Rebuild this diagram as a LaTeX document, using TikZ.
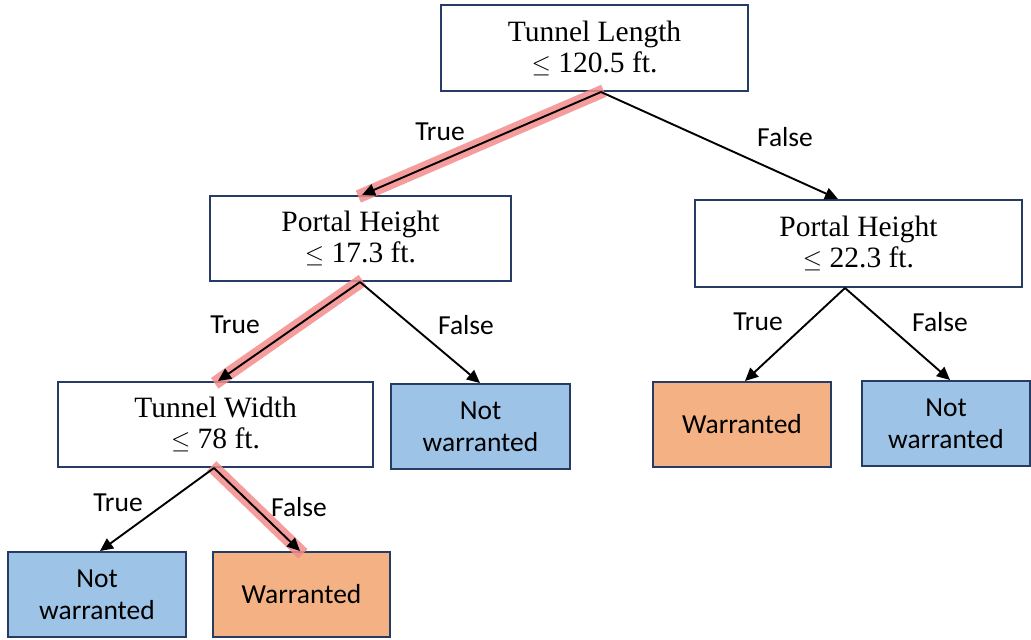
\documentclass[tikz,border=0pt]{standalone}
\usepackage{fontspec}
\setmainfont{Liberation Serif}
\newfontfamily\labelfont{Carlito}
\usetikzlibrary{arrows.meta,calc}
\definecolor{boxline}{RGB}{38,60,100}
\definecolor{nwblue}{RGB}{157,195,230}
\definecolor{worange}{RGB}{244,177,131}
\definecolor{hl}{RGB}{243,140,140}
\tikzset{
  splitbox/.style={draw=boxline,line width=2pt,fill=white,align=center,inner sep=0pt,
    font=\fontsize{29.5}{31}\selectfont},
  leafbox/.style={draw=boxline,line width=2pt,align=center,inner sep=0pt,
    font=\labelfont\fontsize{27.5}{32}\selectfont},
  nwbox/.style={leafbox,fill=nwblue},
  wbox/.style={leafbox,fill=worange},
  edge/.style={line width=1.9pt,-{Triangle[length=13pt,width=12pt]}},
  hlpath/.style={line width=13pt,hl,opacity=0.85,shorten <=-3pt,shorten >=-4pt},
  elabel/.style={font=\labelfont\fontsize{27.5}{30}\selectfont,inner sep=0pt}
}
\begin{document}
\begin{tikzpicture}[x=1pt,y=-1pt]
\useasboundingbox (0,0) rectangle (1031,640);
% nodes
\node[splitbox,minimum width=307pt,minimum height=86pt] (root) at (594.5,48) {Tunnel Length\\$\leq$ 120.5 ft.};
\node[splitbox,minimum width=301pt,minimum height=85pt] (ph1) at (360.5,238.5) {Portal Height\\$\leq$ 17.3 ft.};
\node[splitbox,minimum width=327pt,minimum height=87pt] (ph2) at (858.5,243.5) {Portal Height\\$\leq$ 22.3 ft.};
\node[splitbox,minimum width=315pt,minimum height=85pt] (tw) at (215.5,424.5) {Tunnel Width\\$\leq$ 78 ft.};
\node[nwbox,minimum width=179pt,minimum height=85pt] (nw1) at (480.5,426.5) {Not\\warranted};
\node[wbox,minimum width=178pt,minimum height=85pt] (w2) at (742,424.5) {Warranted};
\node[nwbox,minimum width=168pt,minimum height=85pt] (nw2) at (946,423.5) {Not\\warranted};
\node[nwbox,minimum width=178pt,minimum height=85pt] (nw3) at (97,594.5) {Not\\warranted};
\node[wbox,minimum width=177pt,minimum height=85pt] (w1) at (301.5,594.5) {Warranted};
% connector end points
\coordinate (r1) at ($(root.south)+(6.5,0)$);
\coordinate (p1t) at ($(ph1.north)+(1.5,0)$);
\coordinate (p2t) at ($(ph2.north)+(-20.5,0)$);
\coordinate (p1b) at ($(ph1.south)+(-0.5,0)$);
\coordinate (twt) at ($(tw.north)+(2.5,0)$);
\coordinate (nw1t) at ($(nw1.north)+(-0.5,0)$);
\coordinate (p2b) at ($(ph2.south)+(-13.5,0)$);
\coordinate (w2t) at ($(w2.north)+(3,0)$);
\coordinate (nw2t) at ($(nw2.north)+(4,0)$);
\coordinate (twb) at ($(tw.south)+(-1.5,0)$);
\coordinate (nw3t) at ($(nw3.north)+(3,0)$);
\coordinate (w1t) at ($(w1.north)+(-1.5,0)$);
% highlights
\draw[hlpath] (r1) -- (p1t);
\draw[hlpath] (p1b) -- (twt);
\draw[hlpath] (twb) -- (w1t);
% edges
\draw[edge] (r1) -- (p1t);
\draw[edge] (r1) -- (p2t);
\draw[edge] (p1b) -- (twt);
\draw[edge] (p1b) -- (nw1t);
\draw[edge] (p2b) -- (w2t);
\draw[edge] (p2b) -- (nw2t);
\draw[edge] (twb) -- (nw3t);
\draw[edge] (twb) -- (w1t);
% labels
\node[elabel] (l1) at (440,132) {True};
\node[elabel] (l2) at (785,137) {False};
\node[elabel] (l3) at (235,325) {True};
\node[elabel] (l4) at (466,325) {False};
\node[elabel] (l5) at (758,322) {True};
\node[elabel] (l6) at (940,322) {False};
\node[elabel] (l7) at (118,503) {True};
\node[elabel] (l8) at (299,507) {False};
\end{tikzpicture}
\end{document}
